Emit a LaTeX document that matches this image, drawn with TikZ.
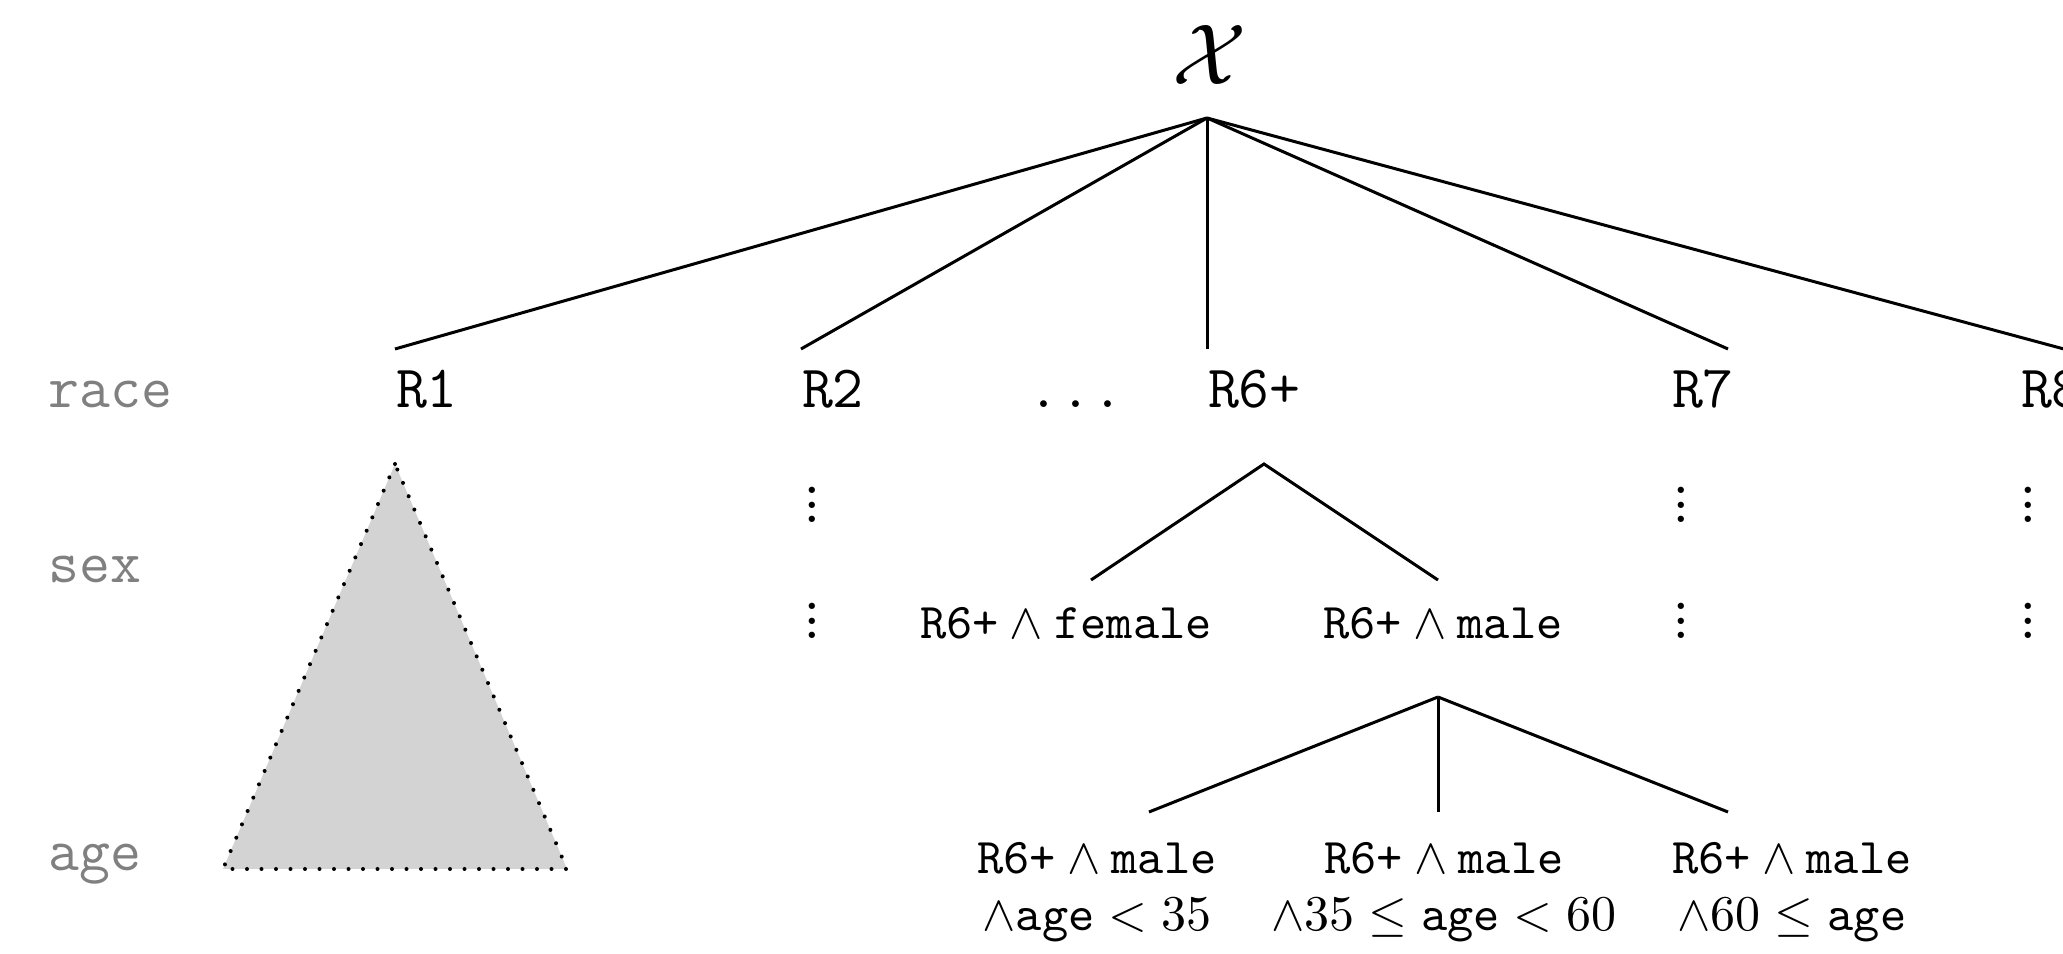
\documentclass[tikz,border=0pt]{standalone}
\usepackage{amsmath}
\definecolor{trifill}{RGB}{211,211,211}
\definecolor{lblgray}{RGB}{128,128,128}
\newcommand{\myvdots}{\vbox{\baselineskip=2.9pt\lineskiplimit=-10pt\hbox{.}\hbox{.}\hbox{.}}}
\begin{document}
\begin{tikzpicture}[x=0.2pt,y=-0.2pt,
  edge/.style={line width=0.6pt},
  lvl/.style={font=\large\ttfamily, text=lblgray, anchor=base west, inner sep=0pt},
  racenode/.style={font=\large\ttfamily, anchor=base west, inner sep=0pt},
  sexnode/.style={font=\normalsize, anchor=base, inner sep=0pt},
  agenode/.style={font=\fontsize{10}{11.4}\selectfont, align=center, anchor=north, inner sep=0pt},
  vd/.style={font=\fontsize{13}{13}\selectfont, inner sep=0pt},
  subtree/.style={draw=black, line width=0.8pt, line cap=round, dash pattern=on 0pt off 2.9pt, fill=trifill}]
\useasboundingbox (0,0) rectangle (2063,954);
\clip (0,0) rectangle (2063,954);
% root
\node[font=\LARGE, inner sep=0pt] (root) at (1210,55) {$\mathcal{X}$};
\coordinate (top) at (1207,118);
% level labels
\node[lvl] (lrace) at (48,408) {race};
\node[lvl] (lsex) at (48,583) {sex};
\node[lvl] (lage) at (48,871) {age};
% race row
\coordinate (e1) at (395,349);
\coordinate (e2) at (801,349);
\coordinate (e6) at (1207,349);
\coordinate (e7) at (1728,349);
\coordinate (e8) at (2075,352);
\node[racenode] (r1) at (395,408) {R1};
\node[racenode] (r2) at (801,408) {R2};
\node[racenode] (rdots) at (1027,408) {.\kern0.3pt.\kern0.3pt.};
\node[racenode] (r6) at (1207,408) {R6+};
\node[racenode] (r7) at (1671,408) {R7};
\node[racenode] (r8) at (2020,408) {R8};
\foreach \e in {e1,e2,e6,e7,e8} \draw[edge] (top) -- (\e);
% subtree of R1
\coordinate (t1) at (395,464);
\coordinate (t2) at (223,869);
\coordinate (t3) at (567,869);
\path[subtree] (t1) -- (t2) -- (t3) -- cycle;
% vertical dots
\node[vd] (v2a) at (812,505) {\myvdots};
\node[vd] (v2b) at (812,621) {\myvdots};
\node[vd] (v7a) at (1681,505) {\myvdots};
\node[vd] (v7b) at (1681,621) {\myvdots};
\node[vd] (v8a) at (2028,505) {\myvdots};
\node[vd] (v8b) at (2028,621) {\myvdots};
% sex split of R6+
\coordinate (s0) at (1264,464);
\coordinate (sf) at (1091,580);
\coordinate (sm) at (1438,580);
\draw[edge] (sf) -- (s0) -- (sm);
\node[sexnode] (fem) at (1066,639) {$\texttt{R6+}\wedge\texttt{female}$};
\node[sexnode] (mal) at (1443,639) {$\texttt{R6+}\wedge\texttt{male}$};
% age split of R6+ and male
\coordinate (a0) at (1438,697);
\coordinate (a1) at (1149,812);
\coordinate (a2) at (1438,812);
\coordinate (a3) at (1728,812);
\draw[edge] (a0) -- (a1);
\draw[edge] (a0) -- (a2);
\draw[edge] (a0) -- (a3);
\node[agenode] (g1) at (1097,841) {$\texttt{R6+}\wedge\texttt{male}$\\$\wedge\texttt{age}<35$};
\node[agenode] (g2) at (1444,841) {$\texttt{R6+}\wedge\texttt{male}$\\$\wedge35\leq\texttt{age}<60$};
\node[agenode] (g3) at (1792,841) {$\texttt{R6+}\wedge\texttt{male}$\\$\wedge60\leq\texttt{age}$};
\end{tikzpicture}
\end{document}
